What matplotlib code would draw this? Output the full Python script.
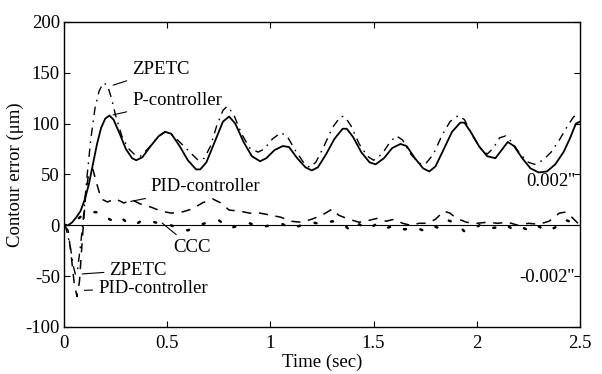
import numpy as np
import matplotlib.pyplot as plt

# Contour error values (um)
t_p = [0, 0.02, 0.04, 0.06, 0.08, 0.1, 0.12, 0.14, 0.16, 0.18, 0.2, 0.22, 0.24, 0.27, 0.30, 0.33, 0.35,
       0.38, 0.42, 0.46, 0.49, 0.52, 0.56, 0.60, 0.64, 0.66, 0.69, 0.73, 0.77, 0.80, 0.83, 0.87, 0.91,
       0.95, 0.98, 1.02, 1.06, 1.09, 1.13, 1.17, 1.2, 1.23, 1.27, 1.31, 1.35, 1.37, 1.40, 1.44, 1.48,
       1.51, 1.55, 1.59, 1.63, 1.66, 1.70, 1.74, 1.77, 1.80, 1.84, 1.88, 1.92, 1.94, 1.97, 2.01, 2.05,
       2.09, 2.12, 2.15, 2.18, 2.22, 2.26, 2.30, 2.34, 2.38, 2.42, 2.45, 2.48, 2.5]
p_ctrl = [0, 0, 3, 8, 14, 25, 40, 60, 80, 96, 105, 108, 104, 90, 75, 66, 64,
          67, 78, 88, 92, 90, 78, 64, 55, 55, 62, 82, 102, 107, 100, 82, 68,
          63, 66, 74, 78, 77, 66, 57, 54, 57, 70, 85, 95, 95, 87, 72, 62,
          60, 66, 76, 80, 78, 66, 56, 53, 58, 75, 92, 101, 101, 92, 78, 68,
          66, 74, 82, 78, 66, 56, 52, 53, 60, 72, 85, 100, 102]

t_z = [0, 0.01, 0.03, 0.045, 0.055, 0.065, 0.08, 0.095, 0.11, 0.13, 0.15, 0.17, 0.19, 0.21, 0.23,
       0.25, 0.28, 0.31, 0.34, 0.37, 0.41, 0.45, 0.49, 0.53, 0.57, 0.61, 0.65, 0.68, 0.71, 0.74, 0.77,
       0.79, 0.82, 0.86, 0.9, 0.94, 0.97, 1.01, 1.05, 1.08, 1.12, 1.16, 1.19, 1.22, 1.26, 1.30, 1.34,
       1.36, 1.39, 1.43, 1.47, 1.50, 1.54, 1.58, 1.61, 1.64, 1.68, 1.72, 1.75, 1.79, 1.83, 1.87, 1.91,
       1.94, 1.98, 2.02, 2.05, 2.08, 2.11, 2.14, 2.17, 2.21, 2.25, 2.28, 2.32, 2.36, 2.40, 2.44, 2.47, 2.5]
zpetc = [0, -3, -20, -40, -48, -45, -20, 10, 45, 85, 115, 132, 140, 138, 125,
         108, 88, 76, 70, 68, 76, 86, 92, 88, 80, 72, 64, 66, 78, 98, 113,
         117, 110, 90, 76, 72, 75, 85, 91, 88, 74, 62, 57, 62, 78, 96, 107,
         107, 98, 80, 68, 64, 70, 82, 88, 84, 70, 61, 60, 70, 88, 102, 108,
         104, 88, 75, 70, 76, 86, 88, 82, 70, 62, 60, 64, 72, 84, 98, 107, 108]

t_pid = [0, 0.02, 0.035, 0.05, 0.063, 0.075, 0.09, 0.105, 0.12, 0.14, 0.16, 0.18, 0.21, 0.25, 0.29,
         0.33, 0.37, 0.42, 0.47, 0.52, 0.57, 0.62, 0.67, 0.72, 0.76, 0.80, 0.85, 0.9, 0.95, 1.0, 1.05,
         1.1, 1.15, 1.2, 1.25, 1.3, 1.33, 1.38, 1.43, 1.48, 1.52, 1.56, 1.6, 1.64, 1.68, 1.72, 1.76,
         1.8, 1.84, 1.87, 1.9, 1.95, 2.0, 2.05, 2.1, 2.15, 2.2, 2.25, 2.3, 2.35, 2.4, 2.43, 2.46, 2.5]
pid = [0, -5, -30, -58, -70, -55, -10, 30, 52, 55, 40, 26, 23, 26, 22,
       25, 21, 18, 14, 12, 13, 16, 22, 26, 22, 15, 14, 12, 12, 10, 8,
       4, 3, 6, 10, 16, 10, 6, 3, 5, 7, 4, 6, 2, 0, 2, 2,
       6, 14, 12, 7, 3, 2, 3, 2, 3, 0, 2, 1, 4, 12, 13, 8, 0]

t_ccc = [0, 0.03, 0.06, 0.09, 0.12, 0.15, 0.19, 0.22, 0.25, 0.28, 0.31, 0.34, 0.38, 0.42, 0.46,
         0.5, 0.55, 0.6, 0.65, 0.7, 0.75, 0.8, 0.85, 0.9, 0.95, 1.0, 1.05, 1.1, 1.15, 1.2, 1.25,
         1.3, 1.35, 1.39, 1.43, 1.47, 1.52, 1.56, 1.6, 1.65, 1.7, 1.74, 1.78, 1.82, 1.86, 1.9, 1.94,
         1.98, 2.02, 2.06, 2.1, 2.14, 2.18, 2.22, 2.26, 2.3, 2.34, 2.38, 2.42, 2.46, 2.5]
ccc = [0, 1, 5, 10, 12, 13, 12, 6, 3, 7, 2, 0, 5, 4, 2,
       1, -2, -5, 0, 3, 5, -3, 0, 2, -2, 0, 2, -3, 0, 3, 1,
       4, 2, -6, 1, -4, 2, -3, 0, -4, -2, -5, 0, -3, 5, 2, -6,
       -4, 1, -3, -2, 1, -5, -2, -6, -1, -6, -2, 6, 3, 0]

xticks = [0, 0.5, 1, 1.5, 2, 2.5]
xticklabels = ["0", "0.5", "1", "1.5", "2", "2.5"]
yticks = [-100, -50, 0, 50, 100, 150, 200]

plt.rcParams['font.family'] = ['Liberation Serif', 'DejaVu Serif']
plt.rcParams['font.size'] = 13.5
plt.rcParams['axes.unicode_minus'] = False

fig = plt.figure(figsize=(6.02, 3.74), dpi=100)
ax = fig.add_axes([0.1063, 0.1257, 0.8572, 0.8155])

ax.axhline(0, color='black', lw=0.8)
ax.plot(t_p, p_ctrl, color='black', lw=1.3)
ax.plot(t_z, zpetc, color='black', lw=1.0, linestyle=(0, (6, 4, 1.2, 4)))
ax.plot(t_pid, pid, color='black', lw=1.1, linestyle=(0, (6, 5)))
ax.plot(t_ccc, ccc, color='black', lw=1.8, linestyle=(0, (0.8, 6)), dash_capstyle='round')

ax.set_xlim(0, 2.5)
ax.set_ylim(-100, 200)
ax.set_xticks(xticks)
ax.set_xticklabels(xticklabels)
ax.set_yticks(yticks)
ax.tick_params(direction='in', top=True, right=True, length=4, width=0.8)
ax.tick_params(axis='y', pad=3)
ax.tick_params(axis='x', pad=6)
for s in ax.spines.values():
    s.set_linewidth(1.0)

ax.set_xlabel("Time (sec)", labelpad=1)
ax.set_ylabel("Contour error (\u03bcm)", labelpad=1)

# annotations with leader lines
ann = dict(color='black', lw=0.8)
ax.annotate("ZPETC", xy=(0.225, 137), xytext=(0.33, 153), va='center', ha='left',
            arrowprops=dict(arrowstyle='-', **ann))
ax.annotate("P-controller", xy=(0.225, 108), xytext=(0.33, 123), va='center', ha='left',
            arrowprops=dict(arrowstyle='-', **ann))
ax.annotate("PID-controller", xy=(0.31, 23), xytext=(0.42, 38), va='center', ha='left',
            arrowprops=dict(arrowstyle='-', **ann))
ax.annotate("CCC", xy=(0.465, 4), xytext=(0.53, -22), va='center', ha='left',
            arrowprops=dict(arrowstyle='-', **ann))
ax.annotate("ZPETC", xy=(0.075, -48), xytext=(0.22, -44), va='center', ha='left',
            arrowprops=dict(arrowstyle='-', **ann))
ax.annotate("PID-controller", xy=(0.085, -64), xytext=(0.165, -62), va='center', ha='left',
            arrowprops=dict(arrowstyle='-', **ann))

ax.text(2.475, 43, "0.002''", ha='right', va='center')
ax.text(2.475, -51, "-0.002''", ha='right', va='center')

fig.savefig("out.png", dpi=100)
